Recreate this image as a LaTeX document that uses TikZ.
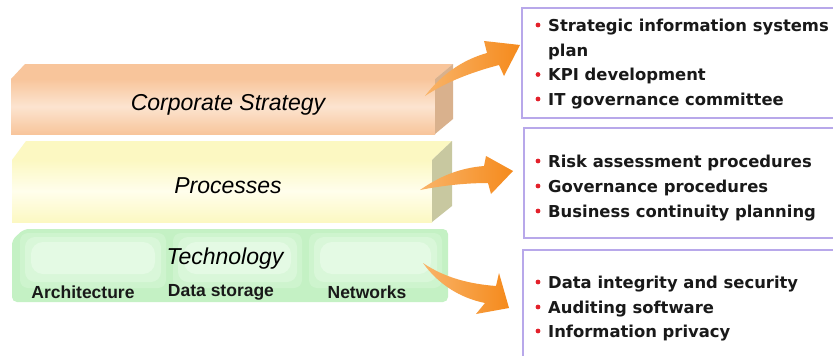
\documentclass[tikz,border=0pt]{standalone}
\usepackage{fontspec}
\setmainfont{Liberation Sans}
\newfontfamily\itemfont{DejaVu Sans}

\definecolor{corpfront}{HTML}{F8C59B}
\definecolor{corplight}{HTML}{FCE4D0}
\definecolor{corpside}{HTML}{D9B18D}
\definecolor{procfront}{HTML}{FCF8C2}
\definecolor{proclight}{HTML}{FFFEEC}
\definecolor{procside}{HTML}{C8C8A0}
\definecolor{techfront}{HTML}{C4F1C4}
\definecolor{techa}{HTML}{CEF4CE}
\definecolor{techb}{HTML}{D9F7D9}
\definecolor{techc}{HTML}{E4FAE4}
\definecolor{arrowdark}{HTML}{F58A1C}
\definecolor{arrowlight}{HTML}{F9B469}
\definecolor{boxline}{HTML}{B8A8EA}
\definecolor{bulletred}{HTML}{E3202A}

\begin{document}
\begin{tikzpicture}[x=1pt,y=-1pt,
  barlabel/.style={font=\fontsize{23}{27}\selectfont\itshape, text=black, inner sep=0pt},
  sublabel/.style={font=\fontsize{17.5}{20}\selectfont\bfseries, text=black!90, inner sep=0pt},
  itembox/.style={draw=boxline, line width=1.3pt, fill=white},
  item/.style={anchor=base west, inner sep=0pt, text=black!90,
    font=\itemfont\bfseries\fontsize{16.4}{20}\selectfont},
  dot/.style={fill=bulletred},
  blockarrow/.style={left color=arrowlight, right color=arrowdark, draw=none}
]
\clip (0,0) rectangle (833,356);
\fill[white] (0,0) rectangle (833,356);

% ---- Corporate Strategy block ----
\fill[corpfront] (11,79) -- (25,64) -- (453,64) -- (435,79) -- cycle;
\shade[top color=corpfront, bottom color=corpfront, middle color=corplight]
  (11,79) rectangle (435,134);
\fill[corpside] (435,79) -- (453,64) -- (453,119) -- (435,134) -- cycle;
\node[barlabel] (corp) at (228,105) {Corporate Strategy};

% ---- Processes block ----
\fill[procfront] (12,160) -- (26,141) -- (452,141) -- (432,160) -- cycle;
\shade[top color=procfront, bottom color=procfront, middle color=proclight]
  (12,160) rectangle (432,222);
\fill[procside] (432,160) -- (452,141) -- (452,206) -- (432,222) -- cycle;
\node[barlabel] (proc) at (228,186) {Processes};

% ---- Technology block with three soft panels ----
\fill[techfront, rounded corners=5] (12,240) -- (24,229) -- (448,229) -- (448,302) -- (12,302) -- cycle;
\foreach \xa/\xb in {20/166, 173/302, 309/442} {
  \fill[techa, rounded corners=8] (\xa,233) rectangle (\xb,288);
  \fill[techb, rounded corners=10] (\xa+5,237) rectangle (\xb-5,282);
  \fill[techc, rounded corners=12] (\xa+11,242) rectangle (\xb-11,274);
}
\node[barlabel] (tech) at (225,259) {Technology};
\node[sublabel] (arch) at (83,292) {Architecture};
\node[sublabel] (store) at (221,292) {Data storage};
\node[sublabel] (net) at (367,292) {Networks};

% ---- item boxes ----
\draw[itembox] (522,8) rectangle (845,118);
\draw[itembox] (524,128) rectangle (845,238);
\draw[itembox] (523,250) rectangle (845,370);

% box 1
\node[item] (s1) at (548,31) {Strategic information systems};
\node[item] (s1b) at (548,56) {plan};
\node[item] (s2) at (548,80.5) {KPI development};
\node[item] (s3) at (548,105) {IT governance committee};
\fill[dot] (538,25) circle (2.4);
\fill[dot] (538,74.5) circle (2.4);
\fill[dot] (538,99) circle (2.4);

% box 2
\node[item] (p1) at (548,167) {Risk assessment procedures};
\node[item] (p2) at (548,192) {Governance procedures};
\node[item] (p3) at (548,217) {Business continuity planning};
\fill[dot] (538,161) circle (2.4);
\fill[dot] (538,186) circle (2.4);
\fill[dot] (538,211) circle (2.4);

% box 3
\node[item] (t1) at (548,288) {Data integrity and security};
\node[item] (t2) at (548,313) {Auditing software};
\node[item] (t3) at (548,337) {Information privacy};
\fill[dot] (538,282) circle (2.4);
\fill[dot] (538,307) circle (2.4);
\fill[dot] (538,331) circle (2.4);

% ---- curved block arrows ----
\shade[blockarrow] (425,96) .. controls (441,75) and (462,60) .. (487,53)
  -- (484,41) -- (520,45) -- (504,76) -- (499,65)
  .. controls (472,72) and (446,82) .. (425,96) -- cycle;
\shade[blockarrow] (420,190) .. controls (440,176) and (460,168) .. (484,166)
  -- (486,156) -- (513,171) -- (491,194) -- (488,183)
  .. controls (464,183) and (440,186) .. (420,190) -- cycle;
\shade[blockarrow] (423,263) .. controls (445,278) and (470,284) .. (496,286)
  -- (499,273) -- (509,308) -- (476,314) -- (485,303)
  .. controls (460,298) and (438,284) .. (423,263) -- cycle;
\end{tikzpicture}
\end{document}
